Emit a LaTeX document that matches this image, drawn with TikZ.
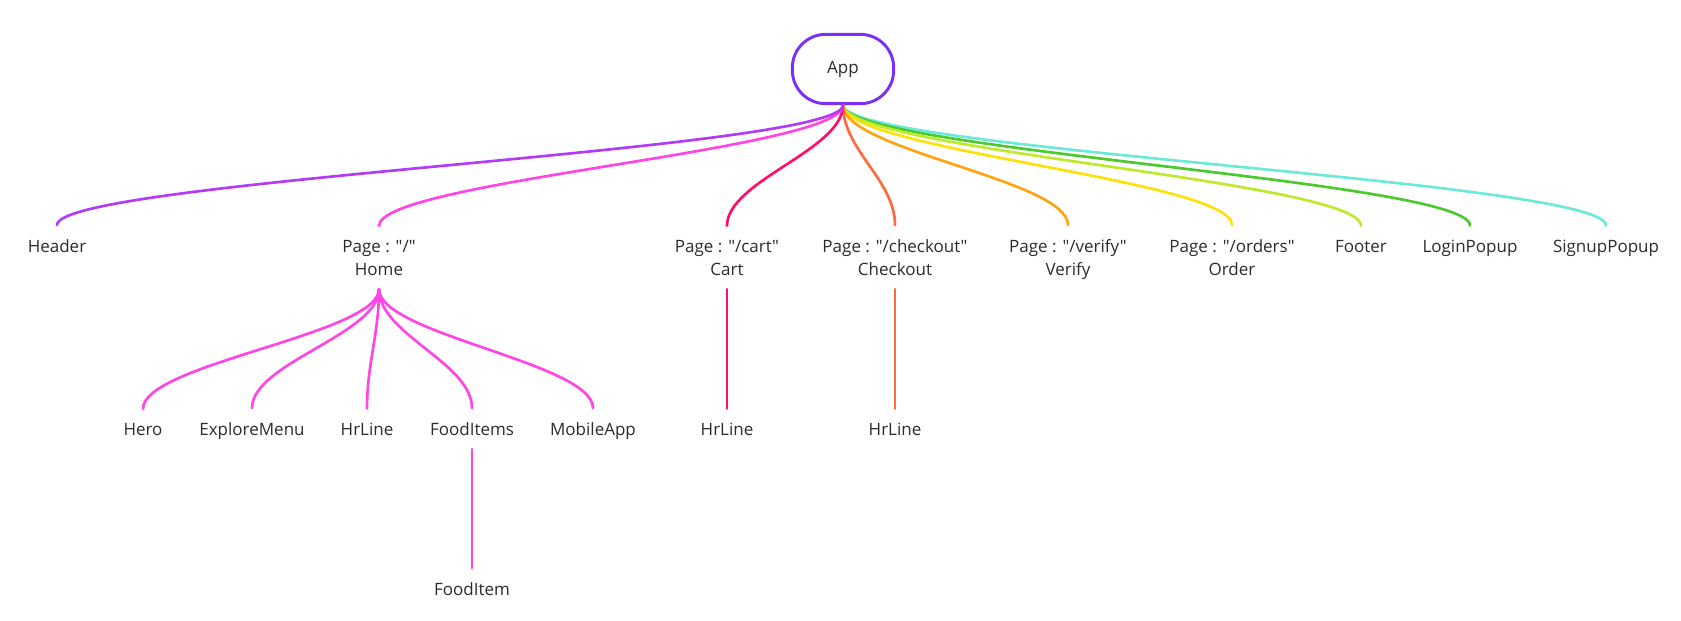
\documentclass[tikz,border=0pt]{standalone}
\usepackage{fontspec}
\setmainfont{Open Sans}[Ligatures=TeXOff]
\usepackage{tikz}
\usetikzlibrary{calc,positioning}
\usepackage{xcolor}
\definecolor{appviolet}{HTML}{7B2FF7}
\definecolor{hdrpurple}{HTML}{B13BF6}
\definecolor{homepink}{HTML}{FF45E3}
\definecolor{cartred}{HTML}{FF0F6B}
\definecolor{chkorange}{HTML}{FF6A3D}
\definecolor{verorange}{HTML}{FFA30F}
\definecolor{ordyellow}{HTML}{FFE10A}
\definecolor{ftlime}{HTML}{BDEA2A}
\definecolor{logingreen}{HTML}{4BC92D}
\definecolor{signupteal}{HTML}{6DE9D7}
\definecolor{txtgray}{HTML}{2B2B2B}

\begin{document}
\begin{tikzpicture}[x=0.75pt, y=-0.75pt,
    every node/.style={font=\fontsize{12.75}{17.25}\selectfont, text=txtgray},
    lbl/.style={inner sep=0pt, outer ysep=10.5pt, anchor=base, align=center},
    edge/.style={line width=2pt, line cap=round}]
      \useasboundingbox (0,0) rectangle (1681,621);
      % root
      \node[draw=appviolet, line width=2.2pt, rounded corners=25pt, minimum width=76pt, minimum height=52pt] (app) at (843,69) {App};
      % first level
      \node[lbl] (hdr) at (57,252) {Header};
      \node[lbl] (home) at (379,275) {Page : "/"\\Home};
      \node[lbl] (cart) at (727,275) {Page : "/cart"\\Cart};
      \node[lbl] (chk) at (895,275) {Page : "/checkout"\\Checkout};
      \node[lbl] (ver) at (1068,275) {Page : "/verify"\\Verify};
      \node[lbl] (ord) at (1232,275) {Page : "/orders"\\Order};
      \node[lbl] (ftr) at (1361,252) {Footer};
      \node[lbl] (login) at (1470,252) {LoginPopup};
      \node[lbl] (signup) at (1606,252) {SignupPopup};
      % home children
      \node[lbl] (hero) at (143,435) {Hero};
      \node[lbl] (menu) at (252,435) {ExploreMenu};
      \node[lbl] (hrl) at (367,435) {HrLine};
      \node[lbl] (foods) at (472,435) {FoodItems};
      \node[lbl] (mob) at (593,435) {MobileApp};
      \node[lbl] (food) at (472,595) {FoodItem};
      \node[lbl] (carthr) at (727,435) {HrLine};
      \node[lbl] (chkhr) at (895,435) {HrLine};
      % connectors
      \foreach \n/\c in {signup/signupteal, login/logingreen, ftr/ftlime, ord/ordyellow, ver/verorange, chk/chkorange, cart/cartred, home/homepink, hdr/hdrpurple}
        \draw[edge,\c] (app.south) .. controls +(0,45) and +(0,-45) .. (\n.north);
      \foreach \n in {hero, menu, hrl, foods, mob}
        \draw[edge,homepink] (home.south) .. controls +(0,45) and +(0,-45) .. (\n.north);
      \draw[edge,homepink] (foods) -- (food);
      \draw[edge,cartred] (cart) -- (carthr);
      \draw[edge,chkorange] (chk) -- (chkhr);
    \end{tikzpicture}
\end{document}
